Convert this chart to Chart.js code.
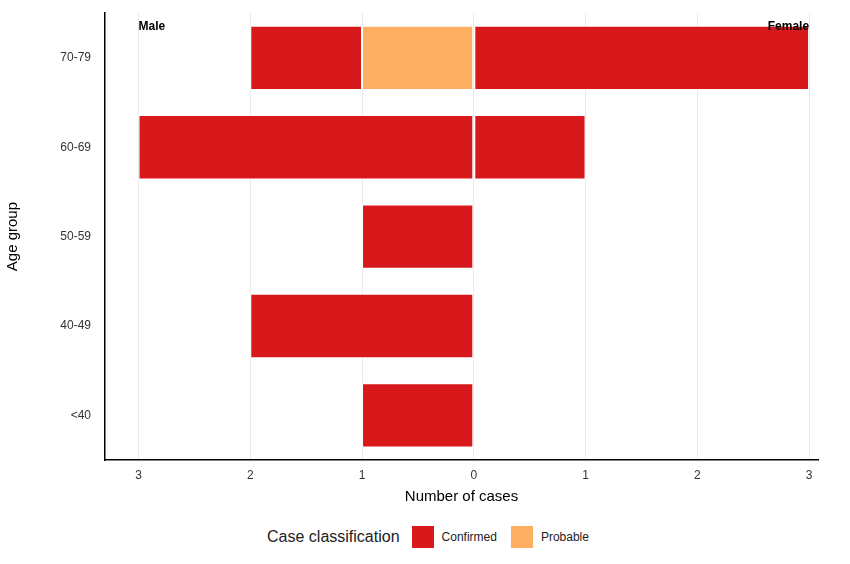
<!DOCTYPE html>
<html>
<head>
<meta charset="utf-8">
<script src="https://cdn.jsdelivr.net/npm/chart.js@4"></script>
<style>
  body { margin: 0; background: #fff; font-family: Arial, "Liberation Sans", sans-serif; }
  #wrap { width: 850px; height: 510px; position: relative; }
  #legend { display: flex; align-items: center; justify-content: center; height: 54px; font-size: 12px; color: #222; padding-left: 20px; }
  #legend .title { font-size: 16px; margin-right: 12px; }
  #legend .box { width: 22px; height: 22px; display: inline-block; margin-right: 8px; }
  #legend .item { display: flex; align-items: center; margin-right: 14px; }
</style>
</head>
<body>
<div id="wrap"><canvas id="chart"></canvas></div>
<div id="legend">
  <span class="title">Case classification</span>
  <span class="item"><span class="box" style="background:#D7191C"></span>Confirmed</span>
  <span class="item"><span class="box" style="background:#FDAE61"></span>Probable</span>
</div>
<script>
// Age groups, top to bottom
const ageGroups = ['70-79', '60-69', '50-59', '40-49', '<40'];
// Male counts are drawn to the left (negative)
const maleConfirmed = [1, 3, 1, 2, 1];
const maleProbable = [1, 0, 0, 0, 0];
const femaleConfirmed = [3, 1, 0, 0, 0];
const xTicks = [-3, -2, -1, 0, 1, 2, 3];

const RED = '#D7191C';
const ORANGE = '#FDAE61';

// Writes "Male" / "Female" in the top corners of the plot
const sideLabels = {
  id: 'sideLabels',
  afterDraw(chart) {
    const { ctx, chartArea, scales } = chart;
    ctx.save();
    ctx.font = 'bold 12px Arial, "Liberation Sans", sans-serif';
    ctx.fillStyle = '#000';
    ctx.textBaseline = 'top';
    ctx.textAlign = 'left';
    ctx.fillText('Male', scales.x.getPixelForValue(-3), chartArea.top + 7);
    ctx.textAlign = 'right';
    ctx.fillText('Female', scales.x.getPixelForValue(3), chartArea.top + 7);
    ctx.restore();
  }
};

const common = { borderColor: '#fff', borderWidth: 1, borderSkipped: false, barPercentage: 0.72, categoryPercentage: 1, stack: 's' };

new Chart(document.getElementById('chart'), {
  type: 'bar',
  data: {
    labels: ageGroups,
    datasets: [
      { label: 'Probable', data: maleProbable.map(v => -v), backgroundColor: ORANGE, ...common },
      { label: 'Confirmed', data: maleConfirmed.map(v => -v), backgroundColor: RED, ...common },
      { label: 'Confirmed (female)', data: femaleConfirmed, backgroundColor: RED, ...common }
    ]
  },
  options: {
    indexAxis: 'y',
    responsive: true,
    maintainAspectRatio: false,
    animation: false,
    layout: { padding: { top: 5, right: 32, left: 0, bottom: 0 } },
    plugins: { legend: { display: false }, tooltip: { enabled: false } },
    scales: {
      x: {
        stacked: true,
        min: -3.3,
        max: 3.08,
        afterBuildTicks: s => { s.ticks = xTicks.map(v => ({ value: v })); },
        afterFit: s => { s.height = 50; },
        grid: { color: '#ebebeb', drawTicks: false, tickLength: 4 },
        border: { color: '#000', width: 1.5 },
        ticks: { color: '#333', font: { size: 12 }, padding: 8, callback: v => Math.abs(v) },
        title: { display: true, text: 'Number of cases', color: '#000', font: { size: 15 }, padding: { top: 4 } }
      },
      y: {
        stacked: true,
        afterFit: s => { s.width = 105; },
        grid: { display: false },
        border: { color: '#000', width: 1.5 },
        ticks: { color: '#333', font: { size: 12 }, padding: 6 },
        title: { display: true, text: 'Age group', color: '#000', font: { size: 15 } }
      }
    }
  },
  plugins: [sideLabels]
});
</script>
</body>
</html>
